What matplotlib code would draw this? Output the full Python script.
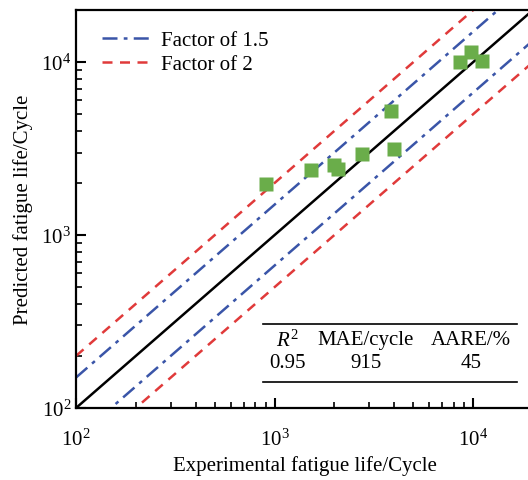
import numpy as np
import matplotlib
matplotlib.use('Agg')
import matplotlib.pyplot as plt

plt.rcParams['font.family'] = ['Liberation Serif', 'DejaVu Serif']
plt.rcParams['mathtext.fontset'] = 'custom'
plt.rcParams['mathtext.rm'] = 'Liberation Serif'
plt.rcParams['mathtext.it'] = 'Liberation Serif:italic'

# 数据
experimental = [910, 1530, 2000, 2090, 2750, 3850, 4000, 8600, 9800, 11100]
predicted = [1970, 2380, 2540, 2420, 2940, 5190, 3140, 10000, 11400, 10200]

table_header = ['$R^2$', 'MAE/cycle', 'AARE/%']
table_values = ['0.95', '915', '45']

lim = (100, 2e4)
ref = np.array(lim)

fig = plt.figure(figsize=(5.28, 4.81), dpi=100)
ax = fig.add_axes([76 / 528, 72 / 481, 457 / 528, 398 / 481])

ax.plot(ref, ref, color='black', lw=1.8)
ax.plot(ref, ref * 1.5, color='#3a55a8', lw=1.8, ls=(0, (6, 2.5, 1.5, 2.5)), label='Factor of 1.5')
ax.plot(ref, ref / 1.5, color='#3a55a8', lw=1.8, ls=(0, (6, 2.5, 1.5, 2.5)))
ax.plot(ref, ref * 2, color='#e03a3a', lw=1.8, ls=(0, (4, 3)), label='Factor of 2')
ax.plot(ref, ref / 2, color='#e03a3a', lw=1.8, ls=(0, (4, 3)))

ax.plot(experimental, predicted, 's', color='#6aad4a', ms=10, mec='none', zorder=5)

ax.set_xscale('log')
ax.set_yscale('log')
ax.set_xlim(lim)
ax.set_ylim(lim)

for s in ax.spines.values():
    s.set_linewidth(1.6)
ax.tick_params(which='both', direction='in', top=False, right=False, labelsize=15)
ax.tick_params(which='major', length=7, width=1.5)
ax.tick_params(which='minor', length=4, width=1.2)
ax.tick_params(axis='x', pad=15)

ax.set_xlabel('Experimental fatigue life/Cycle', fontsize=15, labelpad=4)
ax.set_ylabel('Predicted fatigue life/Cycle', fontsize=15, labelpad=6)

ax.legend(loc='upper left', frameon=False, fontsize=15, handlelength=2.5,
          handletextpad=0.35, labelspacing=0.2, borderaxespad=0.5,
          bbox_to_anchor=(0.015, 0.995))

# 指标表格
tx = [287, 366, 471]
for x, h, v in zip(tx, table_header, table_values):
    fig.text(x / 528, 1 - 341 / 481, h, ha='center', va='center', fontsize=15)
    fig.text(x / 528, 1 - 364 / 481, v, ha='center', va='center', fontsize=15)
for y in (325, 383):
    fig.add_artist(plt.Line2D([263 / 528, 517 / 528], [1 - y / 481, 1 - y / 481],
                              color='black', lw=1.2))

fig.savefig('out.png', dpi=100)
